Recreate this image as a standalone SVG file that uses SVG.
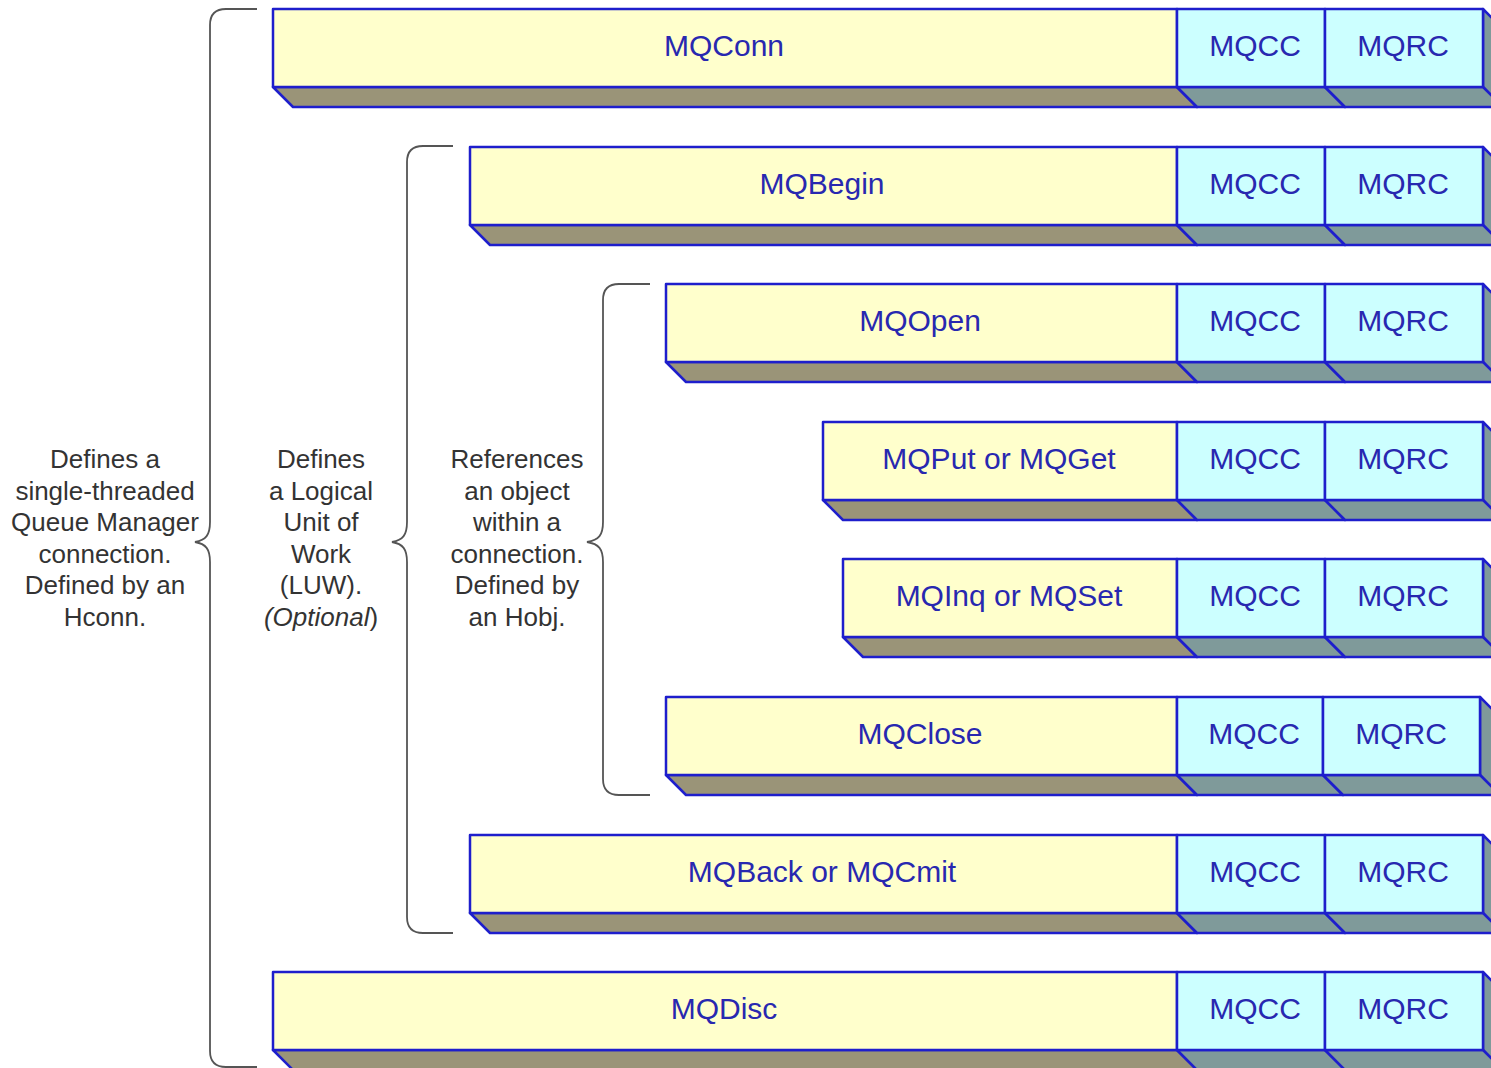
<svg xmlns="http://www.w3.org/2000/svg" width="1491" height="1068" viewBox="0 0 1491 1068">
<style>
.front{fill:#FFFFCC;stroke:#1E1ECC;stroke-width:2.5;stroke-linejoin:round}
.cell{fill:#CCFFFF;stroke:#1E1ECC;stroke-width:2.5;stroke-linejoin:round}
.sy{fill:#9A9478;stroke:#1E1ECC;stroke-width:2.5;stroke-linejoin:round}
.sc{fill:#7F9A9A;stroke:#1E1ECC;stroke-width:2.5;stroke-linejoin:round}
.lbl{font-family:"Liberation Sans",Arial,sans-serif;font-size:30px;fill:#2828B0;text-anchor:middle}
.note{font-family:"Liberation Sans",Arial,sans-serif;font-size:26px;fill:#333333;text-anchor:middle}
.brace{fill:none;stroke:#555555;stroke-width:1.8}
</style>
<rect width="1491" height="1068" fill="#FFFFFF"/>

<g id="connectors">
<path id="brace-hconn" class="brace" d="M257,9 L226,9 Q210,9 210,25 L210,522 C210,535 206,540 195,542 C206,544 210,549 210,562 L210,1051 Q210,1067 226,1067 L257,1067"/>
<path id="brace-luw" class="brace" d="M453,146 L423,146 Q407,146 407,162 L407,522 C407,535 403,540 392,542 C403,544 407,549 407,562 L407,917 Q407,933 423,933 L453,933"/>
<path id="brace-hobj" class="brace" d="M650,284 L619,284 Q603,284 603,300 L603,522 C603,535 599,540 587,542 C599,544 603,549 603,562 L603,779 Q603,795 619,795 L650,795"/>
</g>

<g id="note-hconn">
<text class="note" x="105" y="468">Defines a</text>
<text class="note" x="105" y="500">single-threaded</text>
<text class="note" x="105" y="531">Queue Manager</text>
<text class="note" x="105" y="563">connection.</text>
<text class="note" x="105" y="594">Defined by an</text>
<text class="note" x="105" y="626">Hconn.</text>
</g>
<g id="note-luw">
<text class="note" x="321" y="468">Defines</text>
<text class="note" x="321" y="500">a Logical</text>
<text class="note" x="321" y="531">Unit of</text>
<text class="note" x="321" y="563">Work</text>
<text class="note" x="321" y="594">(LUW).</text>
<text class="note" x="321" y="626"><tspan font-style="italic">(Optional</tspan>)</text>
</g>
<g id="note-hobj">
<text class="note" x="517" y="468">References</text>
<text class="note" x="517" y="500">an object</text>
<text class="note" x="517" y="531">within a</text>
<text class="note" x="517" y="563">connection.</text>
<text class="note" x="517" y="594">Defined by</text>
<text class="note" x="517" y="626">an Hobj.</text>
</g>

<g id="bar-mqconn" transform="translate(0,9)">
<polygon class="sc" points="1483,0 1503,20 1503,98 1483,78"/>
<polygon class="sy" points="273,78 1177,78 1197,98 293,98"/>
<polygon class="sc" points="1177,78 1325,78 1345,98 1197,98"/>
<polygon class="sc" points="1325,78 1483,78 1503,98 1345,98"/>
<rect class="front" x="273" y="0" width="904" height="78"/>
<rect class="cell" x="1177" y="0" width="148" height="78"/>
<rect class="cell" x="1325" y="0" width="158" height="78"/>
<text class="lbl" x="724" y="47">MQConn</text>
<text class="lbl" x="1255" y="47">MQCC</text>
<text class="lbl" x="1403" y="47">MQRC</text>
</g>

<g id="bar-mqbegin" transform="translate(0,147)">
<polygon class="sc" points="1483,0 1503,20 1503,98 1483,78"/>
<polygon class="sy" points="470,78 1177,78 1197,98 490,98"/>
<polygon class="sc" points="1177,78 1325,78 1345,98 1197,98"/>
<polygon class="sc" points="1325,78 1483,78 1503,98 1345,98"/>
<rect class="front" x="470" y="0" width="707" height="78"/>
<rect class="cell" x="1177" y="0" width="148" height="78"/>
<rect class="cell" x="1325" y="0" width="158" height="78"/>
<text class="lbl" x="822" y="47">MQBegin</text>
<text class="lbl" x="1255" y="47">MQCC</text>
<text class="lbl" x="1403" y="47">MQRC</text>
</g>

<g id="bar-mqopen" transform="translate(0,284)">
<polygon class="sc" points="1483,0 1503,20 1503,98 1483,78"/>
<polygon class="sy" points="666,78 1177,78 1197,98 686,98"/>
<polygon class="sc" points="1177,78 1325,78 1345,98 1197,98"/>
<polygon class="sc" points="1325,78 1483,78 1503,98 1345,98"/>
<rect class="front" x="666" y="0" width="511" height="78"/>
<rect class="cell" x="1177" y="0" width="148" height="78"/>
<rect class="cell" x="1325" y="0" width="158" height="78"/>
<text class="lbl" x="920" y="47">MQOpen</text>
<text class="lbl" x="1255" y="47">MQCC</text>
<text class="lbl" x="1403" y="47">MQRC</text>
</g>

<g id="bar-mqput" transform="translate(0,422)">
<polygon class="sc" points="1483,0 1503,20 1503,98 1483,78"/>
<polygon class="sy" points="823,78 1177,78 1197,98 843,98"/>
<polygon class="sc" points="1177,78 1325,78 1345,98 1197,98"/>
<polygon class="sc" points="1325,78 1483,78 1503,98 1345,98"/>
<rect class="front" x="823" y="0" width="354" height="78"/>
<rect class="cell" x="1177" y="0" width="148" height="78"/>
<rect class="cell" x="1325" y="0" width="158" height="78"/>
<text class="lbl" x="999" y="47">MQPut or MQGet</text>
<text class="lbl" x="1255" y="47">MQCC</text>
<text class="lbl" x="1403" y="47">MQRC</text>
</g>

<g id="bar-mqinq" transform="translate(0,559)">
<polygon class="sc" points="1483,0 1503,20 1503,98 1483,78"/>
<polygon class="sy" points="843,78 1177,78 1197,98 863,98"/>
<polygon class="sc" points="1177,78 1325,78 1345,98 1197,98"/>
<polygon class="sc" points="1325,78 1483,78 1503,98 1345,98"/>
<rect class="front" x="843" y="0" width="334" height="78"/>
<rect class="cell" x="1177" y="0" width="148" height="78"/>
<rect class="cell" x="1325" y="0" width="158" height="78"/>
<text class="lbl" x="1009" y="47">MQInq or MQSet</text>
<text class="lbl" x="1255" y="47">MQCC</text>
<text class="lbl" x="1403" y="47">MQRC</text>
</g>

<g id="bar-mqclose" transform="translate(0,697)">
<polygon class="sc" points="1480,0 1500,20 1500,98 1480,78"/>
<polygon class="sy" points="666,78 1177,78 1197,98 686,98"/>
<polygon class="sc" points="1177,78 1323,78 1343,98 1197,98"/>
<polygon class="sc" points="1323,78 1480,78 1500,98 1343,98"/>
<rect class="front" x="666" y="0" width="511" height="78"/>
<rect class="cell" x="1177" y="0" width="146" height="78"/>
<rect class="cell" x="1323" y="0" width="157" height="78"/>
<text class="lbl" x="920" y="47">MQClose</text>
<text class="lbl" x="1254" y="47">MQCC</text>
<text class="lbl" x="1401" y="47">MQRC</text>
</g>

<g id="bar-mqback" transform="translate(0,835)">
<polygon class="sc" points="1483,0 1503,20 1503,98 1483,78"/>
<polygon class="sy" points="470,78 1177,78 1197,98 490,98"/>
<polygon class="sc" points="1177,78 1325,78 1345,98 1197,98"/>
<polygon class="sc" points="1325,78 1483,78 1503,98 1345,98"/>
<rect class="front" x="470" y="0" width="707" height="78"/>
<rect class="cell" x="1177" y="0" width="148" height="78"/>
<rect class="cell" x="1325" y="0" width="158" height="78"/>
<text class="lbl" x="822" y="47">MQBack or MQCmit</text>
<text class="lbl" x="1255" y="47">MQCC</text>
<text class="lbl" x="1403" y="47">MQRC</text>
</g>

<g id="bar-mqdisc" transform="translate(0,972)">
<polygon class="sc" points="1483,0 1503,20 1503,98 1483,78"/>
<polygon class="sy" points="273,78 1177,78 1197,98 293,98"/>
<polygon class="sc" points="1177,78 1325,78 1345,98 1197,98"/>
<polygon class="sc" points="1325,78 1483,78 1503,98 1345,98"/>
<rect class="front" x="273" y="0" width="904" height="78"/>
<rect class="cell" x="1177" y="0" width="148" height="78"/>
<rect class="cell" x="1325" y="0" width="158" height="78"/>
<text class="lbl" x="724" y="47">MQDisc</text>
<text class="lbl" x="1255" y="47">MQCC</text>
<text class="lbl" x="1403" y="47">MQRC</text>
</g>
</svg>
